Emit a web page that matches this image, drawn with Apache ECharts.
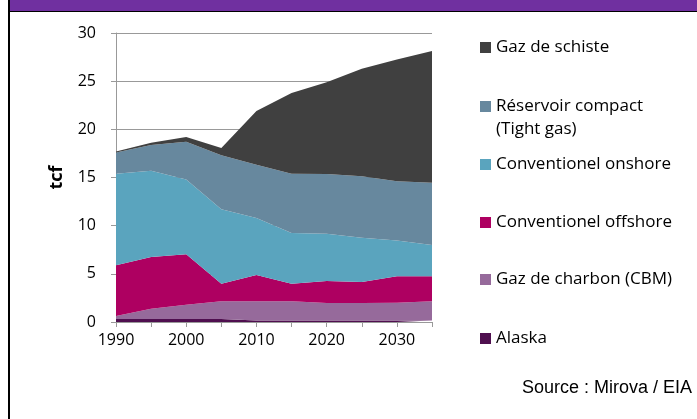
<!DOCTYPE html>
<html><head><meta charset="utf-8">
<script src="https://cdn.jsdelivr.net/npm/echarts@6/dist/echarts.min.js"></script>
<style>html,body{margin:0;padding:0;background:#fff}#c{width:697px;height:419px}</style>
</head><body><div id="c"></div>
<script>
const years = ['1990','1995','2000','2005','2010','2015','2020','2025','2030','2035'];
const alaska   = [0.3,0.3,0.3,0.3,0.15,0.15,0.15,0.15,0.15,0.15];
const cbm      = [0.32,1.08,1.5,1.85,2.0,2.0,1.82,1.82,1.85,2.0];
const offshore = [5.26,5.37,5.22,1.83,2.73,1.83,2.29,2.18,2.75,2.59];
const onshore  = [9.52,8.95,7.76,7.72,5.92,5.26,4.91,4.6,3.7,3.25];
const tight    = [2.2,2.67,3.94,5.6,5.53,6.16,6.19,6.37,6.16,6.47];
const shale    = [0.1,0.23,0.48,0.76,5.57,8.37,9.54,11.18,12.64,13.67];
const names = ['Alaska','Gaz de charbon (CBM)','Conventionel offshore','Conventionel onshore','Réservoir compact','Gaz de schiste'];
const colors = ['#4F0F4F','#966A9B','#AE0061','#5AA4BE','#67889E','#404040'];
const values = [alaska,cbm,offshore,onshore,tight,shale];

const chart = echarts.init(document.getElementById('c'));
const font = 'Open Sans';
const series = values.map((v,i)=>({
  name:names[i], type:'line', stack:'t', data:v, symbol:'none',
  lineStyle:{width:0}, areaStyle:{color:colors[i],opacity:1}, itemStyle:{color:colors[i]}
}));
const legTops = {'Gaz de schiste':46,'Réservoir compact':105,'Conventionel onshore':163,'Conventionel offshore':221,'Gaz de charbon (CBM)':278,'Alaska':337};
const legends = Object.keys(legTops).map(n=>({
  data:[n], left:480, top:legTops[n]-7, itemWidth:11, itemHeight:11, itemGap:0, padding:0,
  icon:'rect', selectedMode:false,
  textStyle:{fontFamily:font, fontSize:17, color:'#000'}
}));
chart.setOption({
  animation:false,
  grid:{left:116, right:265, top:33, bottom:97},
  legend:legends,
  xAxis:{type:'category', data:years, boundaryGap:false,
    axisLine:{lineStyle:{color:'#999'}},
    axisTick:{show:true, interval:0, length:5, lineStyle:{color:'#999'}},
    axisLabel:{interval:1, margin:10, fontFamily:font, fontSize:16, color:'#000'}},
  yAxis:{type:'value', min:0, max:30, interval:5,
    name:'tcf', nameLocation:'middle', nameGap:50, nameRotate:90,
    nameTextStyle:{fontFamily:font, fontSize:18, fontWeight:'bold', color:'#000'},
    axisLine:{show:true, lineStyle:{color:'#999'}},
    axisTick:{show:true, length:5, lineStyle:{color:'#999'}},
    splitLine:{lineStyle:{color:'#999'}},
    axisLabel:{margin:20, fontFamily:font, fontSize:16, color:'#000'}},
  series:series,
  graphic:[
    {type:'rect', shape:{x:10,y:0,width:687,height:11}, style:{fill:'#7030A0'}, z:100},
    {type:'rect', shape:{x:10,y:11,width:687,height:1}, style:{fill:'#000'}, z:100},
    {type:'rect', shape:{x:8,y:0,width:2,height:419}, style:{fill:'#000'}, z:100},
    {type:'text', left:496, top:121, style:{text:'(Tight gas)', font:'17px "Open Sans"', fill:'#000'}},
    {type:'text', right:5, top:379, style:{text:'Source : Mirova / EIA', font:'18px "Liberation Sans"', fill:'#000'}}
  ]
});
</script></body></html>
